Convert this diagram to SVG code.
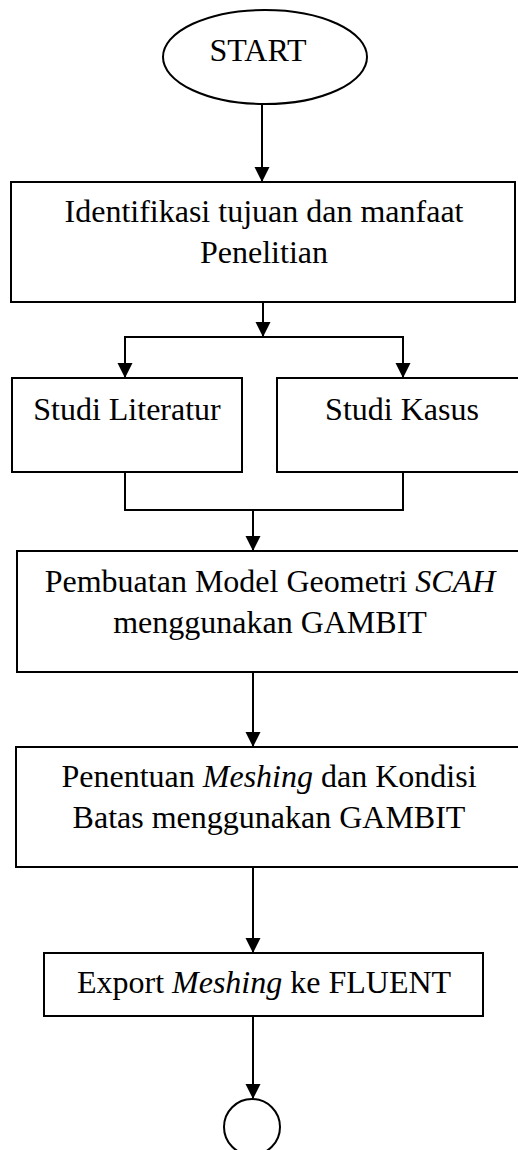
<svg xmlns="http://www.w3.org/2000/svg" width="518" height="1150" viewBox="0 0 518 1150">
<defs>
<marker id="arr" markerUnits="userSpaceOnUse" markerWidth="16" markerHeight="16" refX="14" refY="7.5" orient="auto">
<path d="M0,0 L15,7.5 L0,15 Z" fill="#000"/>
</marker>
<style>
.n{fill:#fff;stroke:#000;stroke-width:2}
text{font-family:'Liberation Serif','Tinos','DejaVu Serif',serif;font-size:32px;fill:#000;text-anchor:middle}
.c{fill:none;stroke:#000;stroke-width:2}
</style>
</defs>
<rect width="518" height="1150" fill="#fff"/>
<g id="connectors">
<line class="c" x1="262" y1="104" x2="262" y2="181" marker-end="url(#arr)"/>
<line class="c" x1="263" y1="302" x2="263" y2="336" marker-end="url(#arr)"/>
<polyline class="c" points="125,377 125,337 403,337 403,377"/>
<line class="c" x1="125" y1="337" x2="125" y2="377" marker-end="url(#arr)"/>
<line class="c" x1="403" y1="337" x2="403" y2="377" marker-end="url(#arr)"/>
<polyline class="c" points="125,472 125,510 403,510 403,472"/>
<line class="c" x1="253" y1="510" x2="253" y2="550" marker-end="url(#arr)"/>
<line class="c" x1="253" y1="672" x2="253" y2="746" marker-end="url(#arr)"/>
<line class="c" x1="253" y1="867" x2="253" y2="952" marker-end="url(#arr)"/>
<line class="c" x1="253" y1="1016" x2="253" y2="1098" marker-end="url(#arr)"/>
</g>
<g id="start">
<ellipse class="n" cx="265" cy="57" rx="102" ry="47"/>
<text x="258" y="61" font-family="Liberation Serif, serif">START</text>
</g>
<g id="identifikasi">
<rect class="n" x="11" y="182" width="504" height="120"/>
<text x="264" y="222" font-family="Liberation Serif, serif">Identifikasi tujuan dan manfaat</text>
<text x="264" y="263" font-family="Liberation Serif, serif">Penelitian</text>
</g>
<g id="literatur">
<rect class="n" x="12" y="378" width="230" height="94"/>
<text x="127" y="420" font-family="Liberation Serif, serif">Studi Literatur</text>
</g>
<g id="kasus">
<rect class="n" x="277" y="378" width="250" height="94"/>
<text x="402" y="420" font-family="Liberation Serif, serif">Studi Kasus</text>
</g>
<g id="geometri">
<rect class="n" x="17" y="551" width="510" height="121"/>
<text x="270" y="592" font-family="Liberation Serif, serif">Pembuatan Model Geometri <tspan font-style="italic">SCAH</tspan></text>
<text x="270" y="633" font-family="Liberation Serif, serif">menggunakan GAMBIT</text>
</g>
<g id="meshing">
<rect class="n" x="16" y="747" width="510" height="120"/>
<text x="269" y="787" font-family="Liberation Serif, serif">Penentuan <tspan font-style="italic">Meshing</tspan> dan Kondisi</text>
<text x="269" y="828" font-family="Liberation Serif, serif">Batas menggunakan GAMBIT</text>
</g>
<g id="export">
<rect class="n" x="44" y="953" width="439" height="63"/>
<text x="264" y="993" font-family="Liberation Serif, serif">Export <tspan font-style="italic">Meshing</tspan> ke FLUENT</text>
</g>
<g id="connector-end">
<circle class="n" cx="252" cy="1127" r="28"/>
</g>
</svg>
